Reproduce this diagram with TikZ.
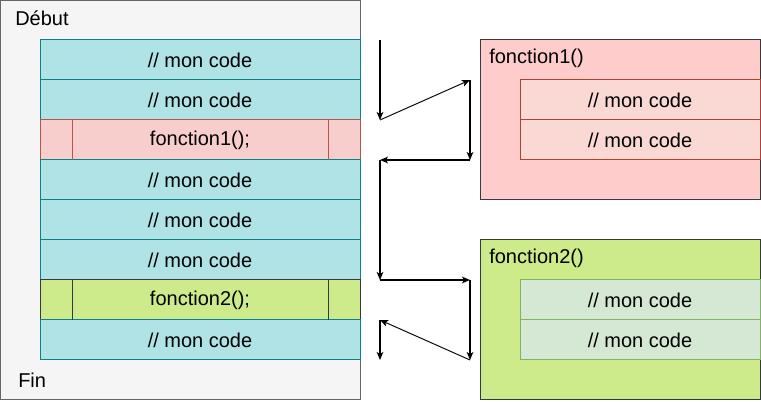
\documentclass[tikz,border=0pt]{standalone}
\usepackage{fontspec}
\setmainfont{Liberation Sans}
\usetikzlibrary{arrows.meta, positioning, calc}
\definecolor{mainfill}{HTML}{F5F5F5}
\definecolor{maindraw}{HTML}{666666}
\definecolor{codefill}{HTML}{B0E3E6}
\definecolor{codedraw}{HTML}{0E8088}
\definecolor{callonefill}{HTML}{F8CECC}
\definecolor{callonedraw}{HTML}{B85450}
\definecolor{calltwofill}{HTML}{CDEB8B}
\definecolor{darkdraw}{HTML}{36393D}
\definecolor{funconefill}{HTML}{FFCCCC}
\definecolor{funconerow}{HTML}{FAD9D5}
\definecolor{funconerowdraw}{HTML}{AE4132}
\definecolor{functworow}{HTML}{D5E8D4}
\definecolor{functworowdraw}{HTML}{82B366}
\tikzset{
  txt/.style={font=\fontsize{15pt}{18pt}\selectfont, text=black},
  label text/.style={txt, anchor=west, inner sep=0pt},
  row/.style={txt, draw, line width=0.75pt, minimum width=240pt, minimum height=30pt, inner sep=0pt, outer sep=0pt},
  coderow/.style={row, fill=codefill, draw=codedraw},
  subrow/.style={row, minimum width=180pt},
  flow/.style={line width=0.9pt, -{Stealth[length=6pt, width=5pt, inset=1.5pt]}}
}
\begin{document}
\begin{tikzpicture}[x=0.75pt, y=-0.75pt]
  \useasboundingbox (0,0) rectangle (761,402);
  % Main program
  \filldraw[fill=mainfill, draw=maindraw, line width=0.75pt] (0.5,0.5) rectangle (360,400);
  \node[label text] (debut) at (15,18) {Début};
  \node[label text] (fin) at (18,380) {Fin};
  \node[coderow] (r1) at (200,60) {// mon code};
  \node[coderow] (r2) at (200,100) {// mon code};
  \node[row, fill=callonefill, draw=callonedraw] (call1) at (200,140) {fonction1();};
  \node[coderow] (r4) at (200,180) {// mon code};
  \node[coderow] (r5) at (200,220) {// mon code};
  \node[coderow] (r6) at (200,260) {// mon code};
  \node[row, fill=calltwofill, draw=darkdraw] (call2) at (200,300) {fonction2();};
  \node[coderow] (r8) at (200,340) {// mon code};
  % Process bars
  \draw[callonedraw, line width=0.75pt] ([xshift=24pt]call1.north west) -- ([xshift=24pt]call1.south west);
  \draw[callonedraw, line width=0.75pt] ([xshift=-24pt]call1.north east) -- ([xshift=-24pt]call1.south east);
  \draw[darkdraw, line width=0.75pt] ([xshift=24pt]call2.north west) -- ([xshift=24pt]call2.south west);
  \draw[darkdraw, line width=0.75pt] ([xshift=-24pt]call2.north east) -- ([xshift=-24pt]call2.south east);
  % Function 1
  \filldraw[fill=funconefill, draw=darkdraw, line width=0.75pt] (480,40) rectangle (760,200);
  \node[label text] (fone) at (489,58) {fonction1()};
  \node[subrow, fill=funconerow, draw=funconerowdraw] (fone1) at (640,100) {// mon code};
  \node[subrow, fill=funconerow, draw=funconerowdraw] (fone2) at (640,140) {// mon code};
  % Function 2
  \filldraw[fill=calltwofill, draw=darkdraw, line width=0.75pt] (480,240) rectangle (760,400);
  \node[label text] (ftwo) at (489,258) {fonction2()};
  \node[subrow, fill=functworow, draw=functworowdraw] (ftwo1) at (640,300) {// mon code};
  \node[subrow, fill=functworow, draw=functworowdraw] (ftwo2) at (640,340) {// mon code};
  % Flow of execution
  \coordinate (a0) at (380,40);
  \coordinate (a1) at (380,120);
  \coordinate (a2) at (470,80);
  \coordinate (a3) at (470,160);
  \coordinate (a4) at (380,160);
  \coordinate (a5) at (380,280);
  \coordinate (a6) at (470,280);
  \coordinate (a7) at (470,360);
  \coordinate (a8) at (380,320);
  \coordinate (a9) at (380,360);
  \draw[flow] (a0) -- (a1);
  \draw[flow, line width=0.7pt] (a1) -- (a2);
  \draw[flow] (a2) -- (a3);
  \draw[flow] (a3) -- (a4);
  \draw[flow] (a4) -- (a5);
  \draw[flow] (a5) -- (a6);
  \draw[flow] (a6) -- (a7);
  \draw[flow, line width=0.7pt] (a7) -- (a8);
  \draw[flow] (a8) -- (a9);
\end{tikzpicture}
\end{document}
